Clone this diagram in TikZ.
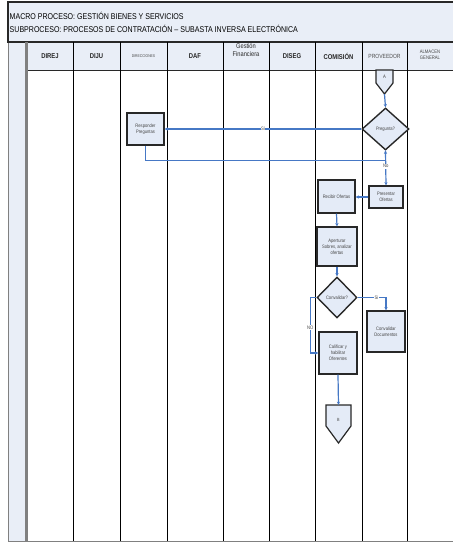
\documentclass[tikz,border=0pt]{standalone}
\usepackage{fontspec}
\setmainfont{Liberation Sans}
\newfontfamily\nar[FakeStretch=0.84]{Liberation Sans}
\usetikzlibrary{shapes.geometric,arrows.meta}
\definecolor{hdrfill}{RGB}{233,238,247}
\definecolor{boxfill}{RGB}{228,235,247}
\definecolor{flow}{RGB}{70,120,197}
\definecolor{edgec}{RGB}{40,40,40}
\definecolor{stripline}{RGB}{128,128,128}
\definecolor{txtgray}{RGB}{70,70,70}
\begin{document}
\begin{tikzpicture}[x=1pt,y=-1pt,
  procbox/.style={draw=edgec, fill=boxfill, line width=1.4, inner sep=0, align=center,
    font=\nar\fontsize{4.9}{5.9}\selectfont, text=txtgray},
  decision/.style={diamond, draw=edgec, fill=boxfill, line width=1.4, inner sep=0, align=center,
    font=\nar\fontsize{4.9}{5.9}\selectfont, text=txtgray},
  offpage/.style={draw=edgec, fill=boxfill, line width=1.2},
  flowline/.style={draw=flow, line width=1.2, -{Stealth[length=3.2pt,width=3.2pt]}},
  lbl/.style={font=\nar\fontsize{5}{5.6}\selectfont, fill=white, inner sep=0.6pt, text=txtgray},
  colhead/.style={font=\nar\bfseries\fontsize{7}{8}\selectfont, text=black!85, align=center},
  lane/.style={draw=black, line width=0.8}]
\useasboundingbox (0,0) rectangle (453,542);
\fill[white] (0,0) rectangle (453,542);

% title box
\draw[fill=hdrfill, draw=edgec, line width=1.2] (8,2) rectangle (456,42);
\node[anchor=west, inner sep=0, font=\nar\fontsize{8.4}{10}\selectfont] (t1) at (9.5,16) {MACRO PROCESO: GESTIÓN BIENES Y SERVICIOS};
\node[anchor=west, inner sep=0, font=\nar\fontsize{8.4}{10}\selectfont] (t2) at (9.5,28.5) {SUBPROCESO: PROCESOS DE CONTRATACIÓN – SUBASTA INVERSA ELECTRÓNICA};

% left strip
\fill[hdrfill] (8,42) rectangle (25,541);
\draw[stripline, line width=0.8] (8,42) -- (8,541);
% column header row
\fill[hdrfill] (27.5,42) rectangle (456,70);

% column headers
\node[colhead] (hDIREJ) at (50,56) {DIREJ};
\node[colhead] (hDIJU) at (96.5,56) {DIJU};
\node[font=\nar\fontsize{4}{5}\selectfont, text=txtgray] (hDIR) at (143.5,56) {DIRECCIONES};
\node[colhead] (hDAF) at (195,56) {DAF};
\begin{scope}
\clip (223,43) rectangle (269,70);
\node[font=\nar\fontsize{6.8}{7.6}\selectfont, text=black!85, align=center] (hGF) at (246,50) {Gestión\\Financiera};
\end{scope}
\node[colhead] (hDISEG) at (292,56) {DISEG};
\node[colhead] (hCOM) at (338.5,56) {COMISIÓN};
\node[font=\nar\fontsize{6}{7}\selectfont, text=black!70] (hPROV) at (384.5,56) {PROVEEDOR};
\node[font=\nar\fontsize{5}{5.8}\selectfont, text=txtgray, align=center] (hALM) at (430,55) {ALMACEN\\GENERAL};

\draw[edgec, line width=1.2] (8,42) -- (456,42);
\draw[edgec, line width=1] (27.5,70) -- (456,70);
\draw[stripline, line width=3] (26,42) -- (26,541);
\foreach \x in {73,120,167,223,269,315,362,407} \draw[lane] (\x,42) -- (\x,541);
\draw[stripline, line width=0.8] (8,541) -- (456,541);

% off-page connector A
\node[inner sep=0, minimum width=17, minimum height=24] (A) at (384.5,82) {};
\draw[offpage] (376,70) -- (393,70) -- (393,83) -- (384.5,94) -- (376,83) -- cycle;
\node[font=\nar\fontsize{5}{6}\selectfont, text=txtgray] (Alab) at (384.5,77) {A};

% nodes
\node[decision, minimum width=47, minimum height=42] (preg) at (385.5,129) {Pregunta?};
\node[procbox, minimum width=37, minimum height=32] (resp) at (145.5,129) {Responder\\Preguntas};
\node[procbox, minimum width=34, minimum height=22] (pres) at (386,197) {Presentar\\Ofertas};
\node[procbox, minimum width=37, minimum height=33] (reci) at (336.5,196.5) {Recibir Ofertas};
\node[procbox, minimum width=40, minimum height=39] (aper) at (337,246.5) {Aperturar\\Sobres, analizar\\ofertas};
\node[decision, minimum width=40, minimum height=41] (conv) at (337,297.5) {Convalidar?};
\node[procbox, minimum width=38, minimum height=41] (cdoc) at (386,331.5) {Convalidar\\Documentos};
\node[procbox, minimum width=38, minimum height=42] (cali) at (338,353) {Calificar y\\habilitar\\Oferentes};

% off-page connector B
\node[inner sep=0, minimum width=25, minimum height=38] (B) at (338.5,424) {};
\draw[offpage] (326,405) -- (351,405) -- (351,426) -- (338.5,443) -- (326,426) -- cycle;
\node[font=\nar\fontsize{4.5}{5}\selectfont, text=txtgray] (Blab) at (338.5,420) {B};

% connectors
\draw[flowline] (A.south) -- (preg.north);
\draw[flowline] (preg.west) -- node[lbl]{Si} (resp.east);
\draw[flowline] (resp.south) -- ++(0,14.5) -| (preg.south);
\draw[flowline] (preg.south) -- node[lbl, pos=0.45]{No} (pres.north);
\draw[flowline] (pres.west) -- (reci.east |- pres.west);
\draw[flowline] (reci.south) -- (aper.north);
\draw[flowline] (aper.south) -- (conv.north);
\draw[flowline] (conv.east) -| node[lbl, pos=0.33]{Si} (cdoc.north);
\draw[flowline] (conv.west) -- ++(-6,0) |- node[lbl, pos=0.27]{NO} (cali.west);
\draw[flowline] (cali.south) -- (B.north);
\end{tikzpicture}
\end{document}
